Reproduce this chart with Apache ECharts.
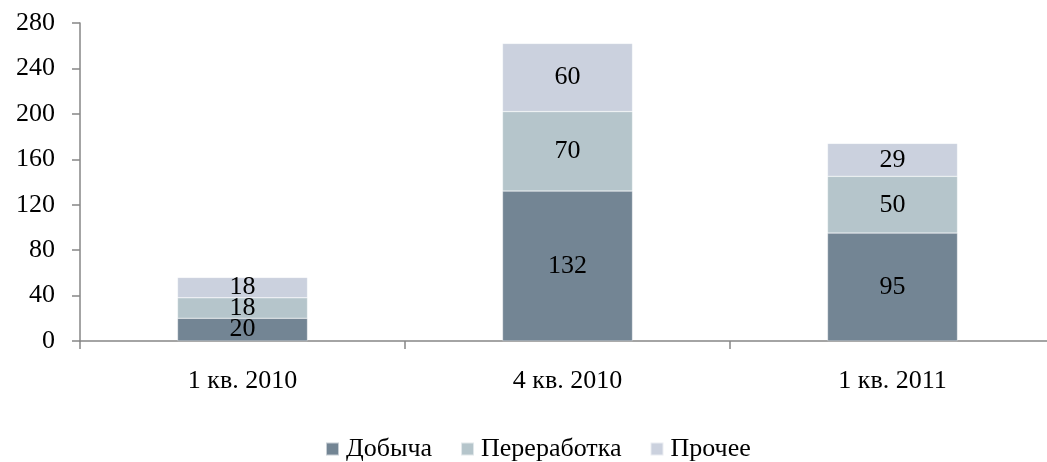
<!DOCTYPE html>
<html><head><meta charset="utf-8">
<script src="https://cdn.jsdelivr.net/npm/echarts@6/dist/echarts.min.js"></script>
<style>html,body{margin:0;padding:0;background:#fff;overflow:hidden;width:1047px;height:462px}#c{width:1060px;height:462px}</style>
</head><body><div id="c"></div>
<script>
const categories = ['1 кв. 2010', '4 кв. 2010', '1 кв. 2011'];
const seriesNames = ['Добыча', 'Переработка', 'Прочее'];
const dobycha = [20, 132, 95];
const pererabotka = [18, 70, 50];
const prochee = [18, 60, 29];
const yTicks = [0, 40, 80, 120, 160, 200, 240, 280];
const colors = ['#738594', '#b5c5cb', '#cbd1de'];
const font = 'Liberation Serif, Times New Roman, serif';

const chart = echarts.init(document.getElementById('c'));
const mk = (name, data, color) => ({
  name, type: 'bar', stack: 'a', data,
  barCategoryGap: '60%',
  itemStyle: { color, borderColor: 'rgba(255,255,255,0.6)', borderWidth: 0.5 },
  label: { show: true, position: 'inside', color: '#000', fontFamily: font, fontSize: 26 }
});
chart.setOption({
  animation: false,
  textStyle: { fontFamily: font },
  grid: { left: 80, top: 23, width: 975, height: 318, containLabel: false },
  legend: {
    left: 320, top: 431, itemWidth: 13, itemHeight: 13, itemGap: 28,
    icon: 'rect',
    textStyle: { fontFamily: font, fontSize: 26, color: '#000', padding: [0, 0, 0, 2] },
    data: seriesNames
  },
  xAxis: {
    type: 'category', data: categories,
    axisLine: { lineStyle: { color: '#868686', width: 1.5 } },
    axisTick: { show: true, length: 8, lineStyle: { color: '#868686', width: 1.5 } },
    axisLabel: { fontFamily: font, fontSize: 26, color: '#000', margin: 27 }
  },
  yAxis: {
    type: 'value', min: yTicks[0], max: yTicks[yTicks.length - 1], interval: 40,
    splitLine: { show: false },
    axisLine: { show: true, lineStyle: { color: '#868686', width: 1.5 } },
    axisTick: { show: true, length: 8, lineStyle: { color: '#868686', width: 1.5 } },
    axisLabel: { fontFamily: font, fontSize: 26, color: '#000', margin: 25 }
  },
  series: [
    mk(seriesNames[0], dobycha, colors[0]),
    mk(seriesNames[1], pererabotka, colors[1]),
    mk(seriesNames[2], prochee, colors[2])
  ]
});
</script></body></html>
